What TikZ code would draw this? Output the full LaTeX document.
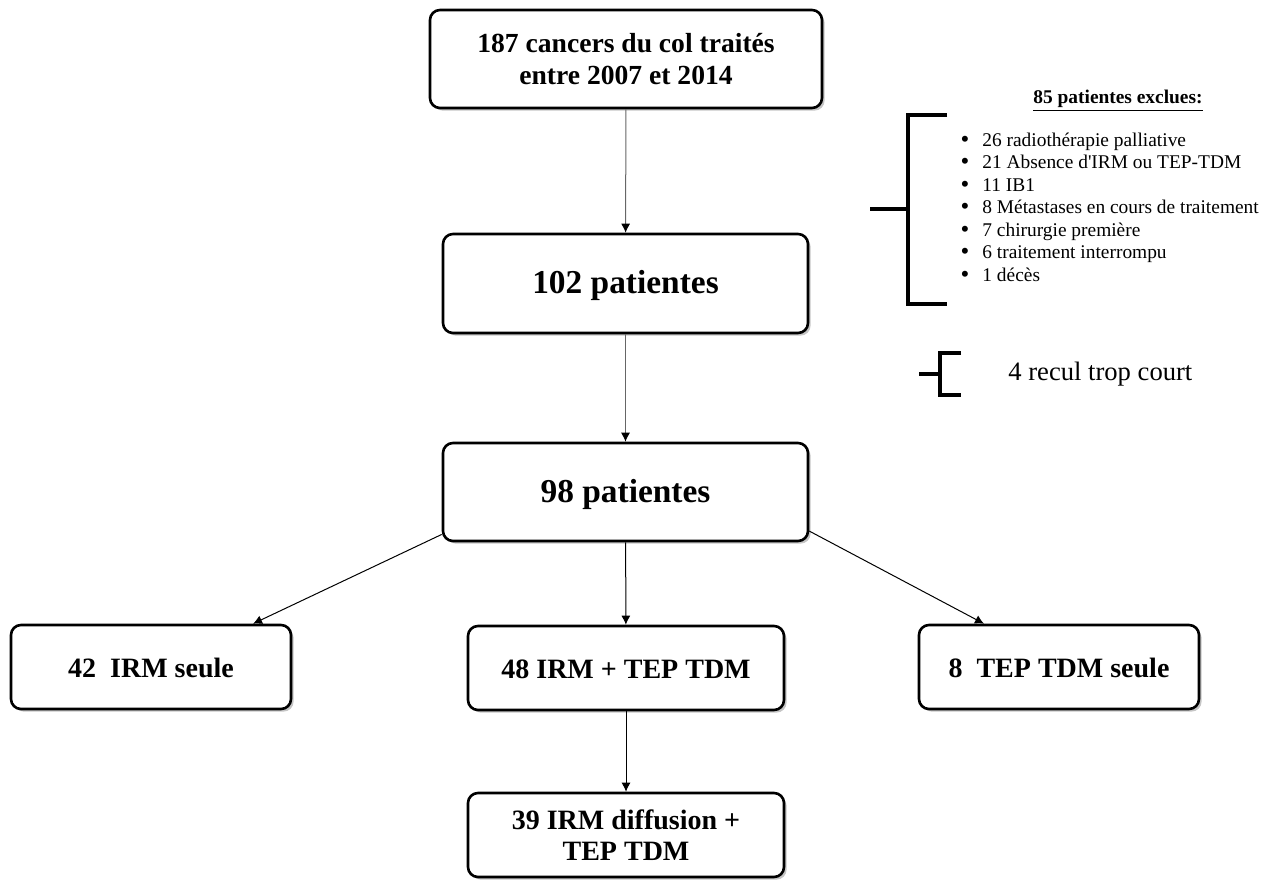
\documentclass[tikz,border=0pt]{standalone}
\usepackage{fontspec}
\setmainfont{Liberation Serif}
\usetikzlibrary{arrows.meta, shadows}

\tikzset{
  box/.style={draw, rounded corners=5pt, line width=1.3pt, fill=white, align=center, inner sep=0pt,
    drop shadow={shadow xshift=1.3pt, shadow yshift=-1.3pt, fill=black!45, opacity=0.5},
    font=\bfseries\fontsize{14}{15.5}\selectfont},
  oneline/.style={text height=12pt, text depth=2pt},
  bigbox/.style={box, text height=12.5pt, text depth=2.5pt, font=\bfseries\fontsize{16.7}{18}\selectfont},
  link/.style={-{Latex[length=4.5pt, width=4.5pt, color=black]}, line width=0.5pt},
  brace/.style={line width=1.6pt}
}

\begin{document}
\begin{tikzpicture}[x=0.5pt, y=-0.5pt]

\useasboundingbox (0,0) rectangle (1274,880);

\node[box, minimum width=196pt, minimum height=49pt, font=\bfseries\fontsize{13.8}{16}\selectfont] (top) at (626,59) {187 cancers du col traités\\entre 2007 et 2014};
\node[bigbox, minimum width=182.5pt, minimum height=49.5pt] (p102) at (625.5,283.5) {102 patientes};
\node[bigbox, minimum width=182.5pt, minimum height=49pt] (p98) at (625.5,492) {98 patientes};

\node[box, oneline, minimum width=140pt, minimum height=42pt] (l42) at (151,667) {42~~IRM seule};
\node[box, oneline, minimum width=158pt, minimum height=42pt] (m48) at (626,668) {48 IRM + TEP TDM};
\node[box, oneline, minimum width=140pt, minimum height=42pt] (r8) at (1059,667) {8~~TEP TDM seule};
\node[box, minimum width=158pt, minimum height=42pt] (d39) at (626,835) {39 IRM diffusion +\\TEP TDM};

\draw[link, black!60] (top) -- (p102);
\draw[link, black!60] (p102) -- (p98);
\draw[link] (p98.193) -- (l42.23);
\draw[link] (p98) -- (m48);
\draw[link] (p98.-12) -- (r8.150);
\draw[link] (m48) -- (d39);

% exclusions
\draw[brace] (947,115) -- (908,115) -- (908,304) -- (947,304);
\draw[brace] (870,209) -- (908,209);
\node[anchor=base, font=\bfseries\fontsize{9.7}{11}\selectfont] (excl) at (1118,103) {\underline{85 patientes exclues:}};

\foreach \txt [count=\i] in {26 radiothérapie palliative, 21 Absence d\textquotesingle IRM ou TEP-TDM, 11 IB1,
    8 Métastases en cours de traitement, 7 chirurgie première, 6 traitement interrompu, 1 décès}
{
  \node[anchor=base, inner sep=0pt, font=\fontsize{12.5}{11}\selectfont] at (965,{147+22.5*(\i-1)}) {\textbullet};
  \node[anchor=base west, inner sep=0pt, font=\fontsize{9.7}{11}\selectfont] at (982,{146+22.5*(\i-1)}) {\txt};
}

\draw[brace] (961,353) -- (940,353) -- (940,395) -- (961,395);
\draw[brace] (919,374) -- (940,374);
\node[anchor=base west, inner sep=0pt, font=\fontsize{13.3}{15}\selectfont] (recul) at (1008,380) {4 recul trop court};

\end{tikzpicture}
\end{document}
